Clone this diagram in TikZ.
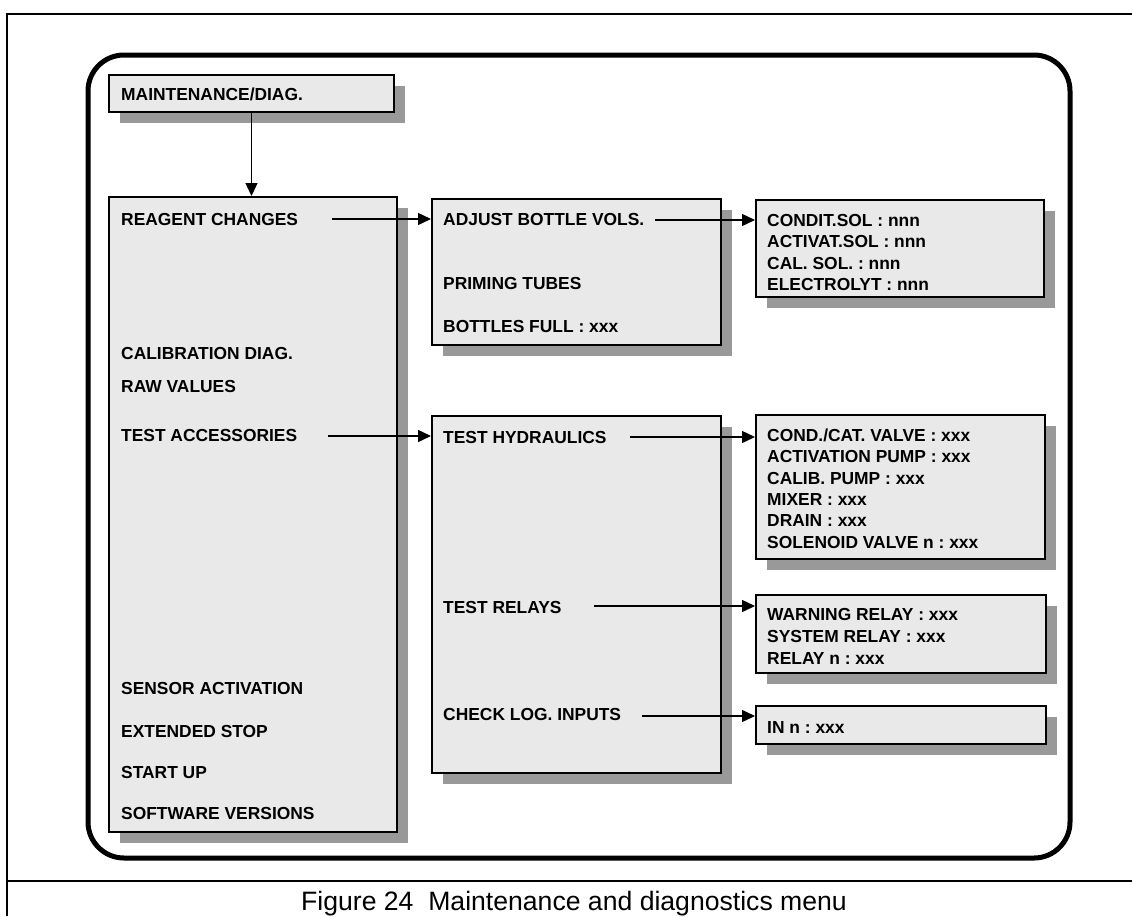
\documentclass[tikz,border=0pt]{standalone}
\usepackage{fontspec}
\setmainfont{Liberation Sans}
\usetikzlibrary{arrows.meta,shadows}
\definecolor{boxfill}{HTML}{E9E9E9}
\definecolor{shadowgray}{HTML}{999999}
\newcommand{\lbfont}{\bfseries\fontsize{17.4}{21}\selectfont}
\frenchspacing
\tikzset{
  menubox/.style={draw, line width=2pt, fill=boxfill, inner sep=0pt,
    drop shadow={shadow xshift=11pt, shadow yshift=-11pt, fill=shadowgray, opacity=1}},
  lbl/.style={font=\lbfont, anchor=base west, inner sep=0pt},
  arr/.style={-{Triangle[length=13pt,width=12pt]}, line width=1.4pt},
  framebox/.style={draw, line width=5pt, rounded corners=36pt, inner sep=0pt},
}
\begin{document}
\begin{tikzpicture}[x=1pt,y=-1pt]
\useasboundingbox (0,0) rectangle (1132,916);
% outer figure frame
\draw[line width=2pt] (1132,14) -- (7,14) -- (7,916);
\draw[line width=2pt] (7,881) -- (1132,881);
\node[font=\fontsize{26.6}{30}\selectfont, anchor=base, inner sep=0pt] (cap) at (574,910) {Figure 24\ \ Maintenance and diagnostics menu};
% rounded panel
\node[framebox, minimum width=982pt, minimum height=803pt] (panel) at (579,456.5) {};
% boxes
\node[menubox, minimum width=285pt, minimum height=37pt] (maint) at (251.5,93.5) {};
\node[menubox, minimum width=288pt, minimum height=635pt] (left) at (253,514.5) {};
\node[menubox, minimum width=289pt, minimum height=146pt] (mid1) at (576.5,272) {};
\node[menubox, minimum width=289pt, minimum height=357pt] (mid2) at (576.5,594.5) {};
\node[menubox, minimum width=288pt, minimum height=97pt] (r1) at (900,248.5) {};
\node[menubox, minimum width=289pt, minimum height=144pt] (r2) at (900.5,487) {};
\node[menubox, minimum width=290pt, minimum height=78pt] (r3) at (901,634) {};
\node[menubox, minimum width=290pt, minimum height=38pt] (r4) at (901,725) {};
% texts
\node[lbl] (tmaint) at (121,100.2) {MAINTENANCE/DIAG.};
\node[lbl] (treag) at (121,225.2) {REAGENT CHANGES};
\node[lbl] (tcal) at (121,359.2) {CALIBRATION DIAG.};
\node[lbl] (traw) at (121,392.2) {RAW VALUES};
\node[lbl] (tacc) at (121,441.2) {TEST ACCESSORIES};
\node[lbl] (tsens) at (121,694.2) {SENSOR ACTIVATION};
\node[lbl] (text) at (121,737.2) {EXTENDED STOP};
\node[lbl] (tstart) at (121,778.2) {START UP};
\node[lbl] (tsoft) at (121,819.2) {SOFTWARE VERSIONS};
\node[lbl] (tadj) at (443,225.2) {ADJUST BOTTLE VOLS.};
\node[lbl] (tprim) at (443,289.2) {PRIMING TUBES};
\node[lbl] (tfull) at (443,332.2) {BOTTLES FULL : xxx};
\node[lbl] (thyd) at (443,443.2) {TEST HYDRAULICS};
\node[lbl] (trel) at (443,613.2) {TEST RELAYS};
\node[lbl] (tchk) at (443,720.2) {CHECK LOG. INPUTS};
\node[lbl] (ra) at (767,226.2) {CONDIT.SOL : nnn};
\node[lbl] (rb) at (767,247.6) {ACTIVAT.SOL : nnn};
\node[lbl] (rc) at (767,269.0) {CAL. SOL. : nnn};
\node[lbl] (rd) at (767,290.4) {ELECTROLYT : nnn};
\node[lbl] (ha) at (767,441.2) {COND./CAT. VALVE : xxx};
\node[lbl] (hb) at (767,462.6) {ACTIVATION PUMP : xxx};
\node[lbl] (hc) at (767,484.0) {CALIB. PUMP : xxx};
\node[lbl] (hd) at (767,505.4) {MIXER : xxx};
\node[lbl] (he) at (767,526.8) {DRAIN : xxx};
\node[lbl] (hf) at (767,548.2) {SOLENOID VALVE n : xxx};
\node[lbl] (la) at (767,620.2) {WARNING RELAY : xxx};
\node[lbl] (lb) at (767,642.2) {SYSTEM RELAY : xxx};
\node[lbl] (lc) at (767,664.2) {RELAY n : xxx};
\node[lbl] (ia) at (767,733.2) {IN n : xxx};
% connector start points
\coordinate (s1) at (332,219);
\coordinate (s2) at (655,220);
\coordinate (s3) at (328,436);
\coordinate (s4) at (630,437);
\coordinate (s5) at (594,606);
\coordinate (s6) at (642,716);
% connectors
\draw[arr] (maint.south) -- (left.north -| maint.south);
\draw[arr] (s1) -- (mid1.west |- s1);
\draw[arr] (s2) -- (r1.west |- s2);
\draw[arr] (s3) -- (mid2.west |- s3);
\draw[arr] (s4) -- (r2.west |- s4);
\draw[arr] (s5) -- (r3.west |- s5);
\draw[arr] (s6) -- (r4.west |- s6);
\end{tikzpicture}
\end{document}
